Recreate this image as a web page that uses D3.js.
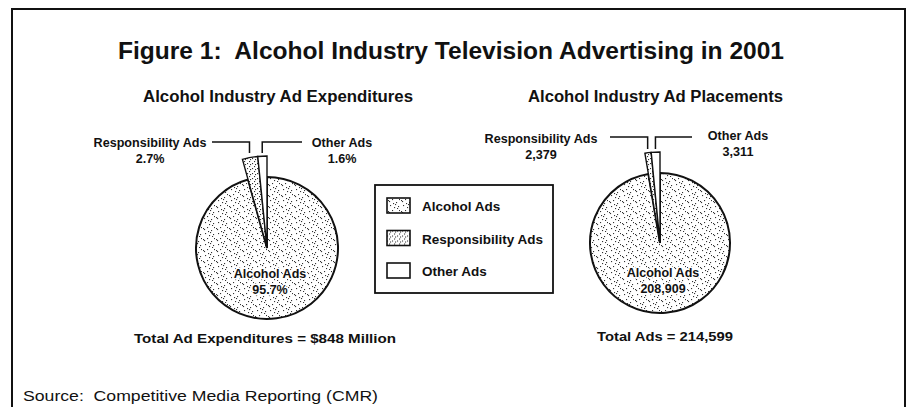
<!DOCTYPE html>
<html>
<head>
<meta charset="utf-8">
<script src="https://cdn.jsdelivr.net/npm/d3@7"></script>
<style>
  html, body { margin: 0; padding: 0; background: #fff; }
  svg { display: block; }
</style>
</head>
<body>
<div id="chart"></div>
<script>
// =========================================================
//  Figure 1 — two exploded-wedge pies + shared legend
// =========================================================
const CATEGORIES = ['Alcohol Ads', 'Responsibility Ads', 'Other Ads'];
const EXPEND_SHARE = [95.7, 2.7, 1.6];          // % of $848M
const PLACEMENTS = [208909, 2379, 3311];        // number of ads
const EXPEND_LABELS = ['95.7%', '2.7%', '1.6%'];
const PLACE_LABELS = ['208,909', '2,379', '3,311'];

const TITLE = 'Figure 1:  Alcohol Industry Television Advertising in 2001';
const SOURCE = 'Source:  Competitive Media Reporting (CMR)';

const W = 909, H = 407;
const FONT = "'Liberation Sans', Arial, Helvetica, sans-serif";

const svg = d3.select('#chart').append('svg')
  .attr('width', W).attr('height', H)
  .attr('viewBox', `0 0 ${W} ${H}`);

// ---- fill patterns (speckled print textures) ----
const defs = svg.append('defs');
const speckle = defs.append('pattern')
  .attr('id', 'pat-alcohol').attr('patternUnits', 'userSpaceOnUse')
  .attr('width', 13).attr('height', 11);
speckle.append('rect').attr('width', 13).attr('height', 11).attr('fill', '#fff');
[[1, 2], [2, 3], [5, 1], [9, 4], [3, 7], [7, 9], [11, 8], [12, 1], [6, 5], [10, 10], [8, 6]].forEach(([px, py]) => {
  speckle.append('rect').attr('x', px).attr('y', py)
    .attr('width', 1.1).attr('height', 1.1).attr('fill', '#333');
});
const dense = defs.append('pattern')
  .attr('id', 'pat-resp').attr('patternUnits', 'userSpaceOnUse')
  .attr('width', 5).attr('height', 5);
dense.append('rect').attr('width', 5).attr('height', 5).attr('fill', '#fff');
[[0, 0], [2, 3], [3, 1]].forEach(([px, py]) => {
  dense.append('rect').attr('x', px).attr('y', py)
    .attr('width', 1.1).attr('height', 1.1).attr('fill', '#333');
});
const FILLS = ['url(#pat-alcohol)', 'url(#pat-resp)', '#fff'];

// ---- frame ----
svg.append('path')
  .attr('d', `M12,${H + 5} L12,9 L905,9 L905,${H + 5}`)
  .attr('fill', 'none').attr('stroke', '#111').attr('stroke-width', 2);

// ---- title ----
svg.append('text')
  .attr('x', 451).attr('y', 59)
  .attr('text-anchor', 'middle')
  .attr('font-family', FONT).attr('font-weight', 700)
  .attr('font-size', 23).attr('fill', '#111')
  .attr('textLength', 666).attr('lengthAdjust', 'spacingAndGlyphs')
  .style('white-space', 'pre')
  .text(TITLE);

// ---- pies ----
const PIES = [
  {
    values: EXPEND_SHARE, labels: EXPEND_LABELS,
    cx: 267, cy: 248, r: 71, innerDy: 30,
    subtitle: 'Alcohol Industry Ad Expenditures', subX: 278, subY: 102, subW: 270,
    total: 'Total Ad Expenditures = $848 Million', totalX: 265, totalY: 343, totalW: 262,
    leaderY: 142,
    calloutL: { x: 150, y: 147, lineX: 212 },
    calloutR: { x: 342, y: 147, lineX: 302 },
  },
  {
    values: PLACEMENTS, labels: PLACE_LABELS,
    cx: 660, cy: 243, r: 70, innerDy: 34,
    subtitle: 'Alcohol Industry Ad Placements', subX: 655.5, subY: 102, subW: 255,
    total: 'Total Ads = 214,599', totalX: 665, totalY: 341, totalW: 136,
    leaderY: 137,
    calloutL: { x: 541, y: 143, lineX: 610 },
    calloutR: { x: 738, y: 140, lineX: 692 },
  },
];

const pie = d3.pie().sort(null).value(d => d);
const EXTRA = 21;   // small wedges stick out past the circle

PIES.forEach(cfg => {
  const g = svg.append('g').attr('transform', `translate(${cfg.cx},${cfg.cy})`);
  const arcs = pie(cfg.values);
  const arcBig = d3.arc().innerRadius(0).outerRadius(cfg.r);
  const arcSmall = d3.arc().innerRadius(0).outerRadius(cfg.r + EXTRA);

  g.selectAll('path.slice').data(arcs).join('path')
    .attr('class', 'slice')
    .attr('d', (d, i) => i === 0 ? arcBig(d) : arcSmall(d))
    .attr('fill', (d, i) => FILLS[i])
    .attr('stroke', '#111')
    .attr('stroke-width', (d, i) => i === 0 ? 2 : 1.4)
    .attr('stroke-linejoin', 'miter');

  // subtitle
  svg.append('text')
    .attr('x', cfg.subX).attr('y', cfg.subY)
    .attr('text-anchor', 'middle')
    .attr('font-family', FONT).attr('font-weight', 700)
    .attr('font-size', 16).attr('fill', '#111')
    .attr('textLength', cfg.subW).attr('lengthAdjust', 'spacingAndGlyphs')
    .text(cfg.subtitle);

  // inner label (Alcohol Ads)
  const inner = g.append('text')
    .attr('text-anchor', 'middle')
    .attr('font-family', FONT).attr('font-weight', 700)
    .attr('font-size', 12.5).attr('fill', '#111')
    .attr('stroke', '#fff').attr('stroke-width', 3).attr('paint-order', 'stroke');
  inner.append('tspan').attr('x', 3).attr('y', cfg.innerDy).text(CATEGORIES[0]);
  inner.append('tspan').attr('x', 3).attr('y', cfg.innerDy + 15.5).text(cfg.labels[0]);

  // callouts for the two small wedges, leader end placed from the wedge angle
  [[1, cfg.calloutL], [2, cfg.calloutR]].forEach(([i, c]) => {
    const a = (arcs[i].startAngle + arcs[i].endAngle) / 2;
    const ex = cfg.cx + Math.sin(a) * (cfg.r + EXTRA + 3);
    const ey = cfg.cy - (cfg.r + EXTRA + 3);
    svg.append('path')
      .attr('d', `M${c.lineX},${cfg.leaderY} L${ex},${cfg.leaderY} L${ex},${ey}`)
      .attr('fill', 'none').attr('stroke', '#111').attr('stroke-width', 1.5);
    const t = svg.append('text')
      .attr('text-anchor', 'middle')
      .attr('font-family', FONT).attr('font-weight', 700)
      .attr('font-size', 12.6).attr('fill', '#111');
    t.append('tspan').attr('x', c.x).attr('y', c.y).text(CATEGORIES[i]);
    t.append('tspan').attr('x', c.x).attr('y', c.y + 15.5).text(cfg.labels[i]);
  });

  // total line
  svg.append('text')
    .attr('x', cfg.totalX).attr('y', cfg.totalY)
    .attr('text-anchor', 'middle')
    .attr('font-family', FONT).attr('font-weight', 700)
    .attr('font-size', 12).attr('fill', '#111')
    .attr('textLength', cfg.totalW).attr('lengthAdjust', 'spacingAndGlyphs')
    .text(cfg.total);
});

// ---- legend ----
const lg = svg.append('g').attr('transform', 'translate(375,185)');
lg.append('rect').attr('width', 178).attr('height', 108)
  .attr('fill', '#fff').attr('stroke', '#111').attr('stroke-width', 1.8);
const items = lg.selectAll('g.item').data(CATEGORIES).join('g')
  .attr('class', 'item')
  .attr('transform', (d, i) => `translate(12,${13 + i * 32.5})`);
items.append('rect').attr('width', 23).attr('height', 15)
  .attr('fill', (d, i) => FILLS[i])
  .attr('stroke', '#111').attr('stroke-width', 1.6);
items.append('text')
  .attr('x', 35).attr('y', 13)
  .attr('font-family', FONT).attr('font-weight', 700)
  .attr('font-size', 13.5).attr('fill', '#111')
  .text(d => d);

// ---- source ----
svg.append('text')
  .attr('x', 23).attr('y', 401)
  .attr('font-family', FONT)
  .attr('font-size', 14).attr('fill', '#111')
  .attr('textLength', 355).attr('lengthAdjust', 'spacingAndGlyphs')
  .style('white-space', 'pre')
  .text(SOURCE);
</script>
</body>
</html>
